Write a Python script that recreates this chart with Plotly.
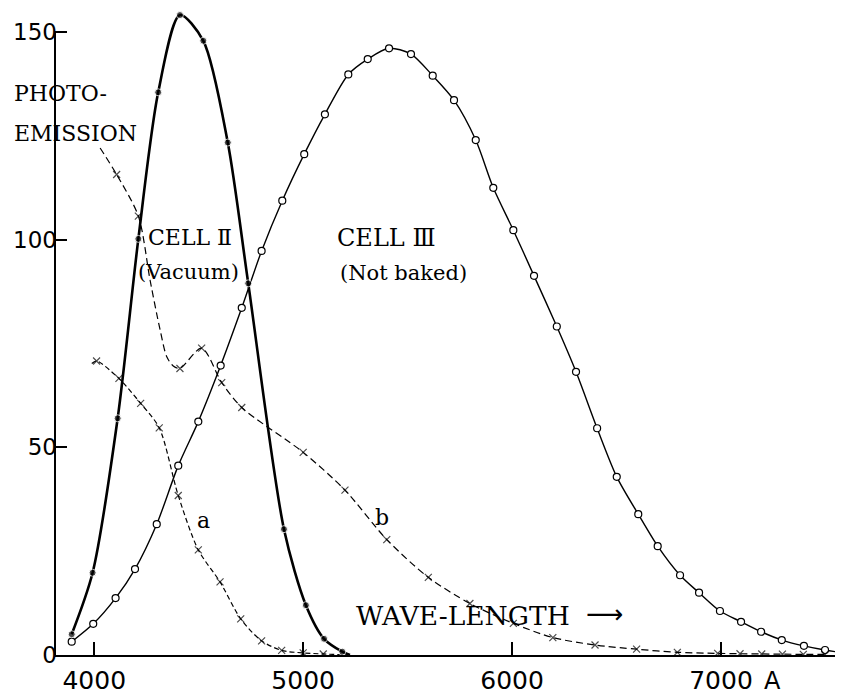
import plotly.graph_objects as go

# ---- data (wavelength in Angstrom, response) ----
cell2_wl = [3892, 3992, 4112, 4211, 4306, 4410, 4522, 4639, 4737, 4908, 5013, 5100, 5187, 5224]
cell2_val = [5.0, 19.8, 57.0, 100.2, 135.5, 154.1, 147.9, 123.4, 89.5, 30.3, 12.0, 3.9, 0.8, 0.0]
cell2_marked = [1, 1, 1, 1, 1, 1, 1, 1, 1, 1, 1, 1, 1, 0]

cell3_wl = [3892, 3995, 4102, 4195, 4299, 4402, 4498, 4605, 4706, 4801, 4900, 5005, 5104, 5216,
            5309, 5411, 5516, 5620, 5722, 5826, 5910, 6006, 6105, 6214, 6306, 6407, 6501, 6604,
            6697, 6804, 6895, 6995, 7096, 7192, 7291, 7397, 7498, 7583]
cell3_val = [3.2, 7.5, 13.7, 20.7, 31.5, 45.6, 56.2, 69.7, 83.6, 97.3, 109.4, 120.6, 130.2, 139.8,
             143.5, 146.1, 144.7, 139.5, 133.6, 124.0, 112.5, 102.3, 91.3, 79.1, 68.2, 54.6, 42.9, 33.9,
             26.2, 19.2, 15.0, 10.6, 8.0, 5.6, 3.6, 2.2, 1.2, 0.55]

photo_b_wl = [4028, 4107, 4211, 4267, 4315, 4347, 4378, 4410, 4514, 4610, 4706, 5000, 5200, 5400,
              5599, 5798, 6006, 6195, 6397, 6596, 6791, 6984, 7091, 7195, 7294, 7394, 7498]
photo_b_val = [122.1, 115.7, 105.7, 90.3, 78.3, 71.8, 69.6, 69.0, 73.9, 65.6, 59.6, 48.8, 39.7, 27.8,
               18.7, 12.4, 7.6, 4.2, 2.4, 1.4, 0.65, 0.4, 0.3, 0.25, 0.2, 0.15, 0.15]
photo_b_marked = [0, 1, 1, 0, 0, 0, 0, 1, 1, 1, 1, 1, 1, 1, 1, 1, 1, 1, 1, 1, 1, 1, 1, 1, 1, 1, 1]

photo_a_wl = [3988, 4011, 4118, 4222, 4311, 4402, 4498, 4602, 4701, 4801, 4897, 5000, 5096, 5208]
photo_a_val = [70.2, 70.8, 66.6, 60.6, 54.7, 38.4, 25.3, 17.6, 8.7, 3.4, 1.1, 0.5, 0.25, 0.0]
photo_a_marked = [0, 1, 1, 1, 1, 1, 1, 1, 1, 1, 1, 1, 1, 0]

x_ticks = [4000, 5000, 6000, 7000]
x_tick_labels = ["4000", "5000", "6000", "7000"]
y_ticks = [0, 50, 100, 150]
y_tick_labels = ["0", "50", "100", "150"]

# page body has an 8px margin, so the figure is drawn 8px right/down
W, H = 835, 686
X_RANGE = [3812, 7584]
Y_RANGE = [0, 155.8]

SERIF = "DejaVu Serif"
SANS = "DejaVu Sans"


# window pixel -> paper coordinates (plot area spans window x 55..843, y 8..655)
def XP(px):
    return (px - 55) / 788.0


def YP(py):
    return (655 - py) / 647.0


def sizes(marked, s):
    return [s if m else 0 for m in marked]


fig = go.Figure()

# Cell III (open circles, thin line)
fig.add_trace(go.Scatter(
    x=cell3_wl, y=cell3_val, mode="lines+markers",
    line=dict(color="black", width=1.4, shape="spline", smoothing=0.8),
    marker=dict(symbol="circle", size=7, color="white", line=dict(color="black", width=1.2)),
    showlegend=False))

# Photo-emission curve b (upper)
fig.add_trace(go.Scatter(
    x=photo_b_wl, y=photo_b_val, mode="lines+markers",
    line=dict(color="black", width=1.2, dash="7px,4px", shape="spline", smoothing=0.8),
    marker=dict(symbol="x-thin", size=sizes(photo_b_marked, 7), color="black",
                line=dict(color="black", width=1.2)),
    showlegend=False))

# Photo-emission curve a
fig.add_trace(go.Scatter(
    x=photo_a_wl, y=photo_a_val, mode="lines+markers",
    line=dict(color="black", width=1.2, dash="5px,3px", shape="spline", smoothing=0.8),
    marker=dict(symbol="x-thin", size=sizes(photo_a_marked, 7), color="black",
                line=dict(color="black", width=1.2)),
    showlegend=False))

# Cell II (filled dots, heavy line)
fig.add_trace(go.Scatter(
    x=cell2_wl, y=cell2_val, mode="lines+markers",
    line=dict(color="black", width=2.6, shape="spline", smoothing=0.8),
    marker=dict(symbol="circle", size=sizes(cell2_marked, 7), color="black"),
    showlegend=False))

# y axis line only up to 150
fig.add_shape(type="line", xref="paper", yref="y", x0=0, x1=0, y0=0, y1=150,
              line=dict(color="black", width=2))

ann = []


def add_text(txt, px, py, size, xanchor="center", family=SERIF):
    ann.append(dict(x=XP(px), y=YP(py), xref="paper", yref="paper", text=txt, showarrow=False,
                    xanchor=xanchor, yanchor="middle",
                    font=dict(family=family, size=size, color="black")))


add_text("PHOTO-", 12, 93, 22, "left")
add_text("EMISSION", 12, 133, 22, "left")
add_text("CELL \u2161", 190, 237, 22)
add_text("(Vacuum)", 188, 272, 21)
add_text("CELL \u2162", 386, 238, 24)
add_text("(Not baked)", 403, 273, 21)
add_text("a", 203, 520, 22)
add_text("b", 382, 518, 22)
add_text("WAVE-LENGTH", 354, 615, 26.5, "left")
add_text("\u27F6", 604, 614, 26, family=SANS)
add_text("A", 772, 681, 24, family=SANS)

fig.update_layout(
    width=W, height=H,
    margin=dict(l=47, r=0, t=0, b=39),
    plot_bgcolor="white", paper_bgcolor="white",
    annotations=ann,
    xaxis=dict(range=X_RANGE, tickvals=x_ticks, ticktext=x_tick_labels, automargin=False,
               ticks="inside", ticklen=13, tickwidth=2, tickcolor="black",
               showline=True, linecolor="black", linewidth=2,
               showgrid=False, zeroline=False, ticklabelstandoff=2,
               tickfont=dict(family=SANS, size=25, color="black")),
    yaxis=dict(range=Y_RANGE, tickvals=y_ticks, ticktext=y_tick_labels, automargin=False,
               ticks="inside", ticklen=12, tickwidth=2, tickcolor="black",
               showline=False, showgrid=False, zeroline=False, ticklabelstandoff=-3,
               tickfont=dict(family=SANS, size=23, color="black")),
)

fig.write_html("out.html")
